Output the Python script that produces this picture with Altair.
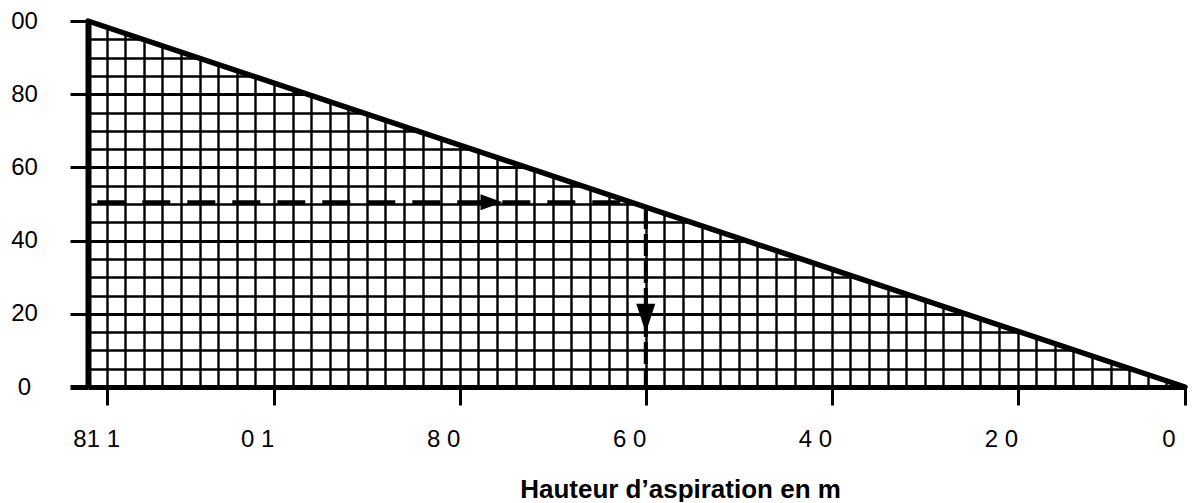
import altair as alt
import pandas as pd

# ---- data -------------------------------------------------------------------
# x positions are counted in grid columns from the left axis (59 columns to the origin)
x_grid_cols = list(range(0, 60))
x_tick_cols = [1, 10, 20, 30, 40, 50, 59]
x_tick_labels = ["81 1", "0 1", "8 0", "6 0", "4 0", "2 0", "0"]

y_grid_values = list(range(0, 101, 5))
y_tick_values = [0, 20, 40, 60, 80, 100]
y_tick_labels = ["0", "20", "40", "60", "80", "00"]

# characteristic line (hypotenuse)
line_cols = [0, 59]
line_vals = [100, 0]

# white area above the characteristic line (hides the grid there)
mask_cols = [0, 59, 60.5]
mask_vals = [100, 0, 1.2]
mask_top = [101.5, 101.5, 101.5]

# reading example (dashed path + arrows)
hdash_cols = [0.5, 29.2]
hdash_vals = [50.5, 50.5]
vdash_cols = [30, 30]
vdash_vals = [49.2, 0]
arrow_right_cols = [21.7]
arrow_right_vals = [50.5]
arrow_down_cols = [30]
arrow_down_vals = [18.8]

title_text = "Hauteur d\u2019aspiration en m"
FONT = "Liberation Sans"

# ---- axes ---------------------------------------------------------------------
def label_expr(values, labels):
    expr = "''"
    for v, l in reversed(list(zip(values, labels))):
        expr = f"datum.value == {v} ? '{l}' : ({expr})"
    return expr

x_tick_test = "indexof([" + ",".join(str(v) for v in x_tick_cols) + "], datum.value) >= 0"

x_axis = alt.Axis(
    values=x_grid_cols,
    labelExpr=label_expr(x_tick_cols, x_tick_labels),
    labelFont=FONT, labelFontSize=24, labelColor="black",
    labelAlign="right", labelBaseline="top", labelPadding=22,
    labelOverlap=False, labelFlush=False,
    labelOffset={"condition": [{"test": "datum.value == 1", "value": 13},
                               {"test": "datum.value == 59", "value": -10}], "value": 0},
    tickSize=18, tickColor="black",
    tickWidth=3,
    tickOpacity={"condition": {"test": x_tick_test, "value": 1}, "value": 0},
    domainColor="black", domainWidth=5,
    grid=True, gridColor="black", gridWidth=2.4,
    gridOpacity={"condition": {"test": "datum.value == 59", "value": 0}, "value": 1},
    title=title_text, titleFont=FONT, titleFontSize=26, titleFontWeight="bold",
    titleColor="black", titleX=592, titleY=110, titleAlign="center",
    titleBaseline="alphabetic",
)

y_axis = alt.Axis(
    values=y_grid_values,
    labelExpr=label_expr(y_tick_values, y_tick_labels),
    labelFont=FONT, labelFontSize=24, labelColor="black",
    labelAlign="center", labelBaseline="middle", labelPadding=46,
    labelOverlap=False, labelFlush=False,
    tickSize=18, tickColor="black",
    tickWidth={"condition": {"test": "datum.value == 0", "value": 5}, "value": 3},
    tickOpacity={"condition": {"test": "datum.value % 20 == 0", "value": 1}, "value": 0},
    domainColor="black", domainWidth=6,
    grid=True, gridColor="black",
    gridWidth={"condition": {"test": "datum.value % 20 == 0", "value": 3.2}, "value": 2.4},
    gridOpacity={"condition": {"test": "datum.value == 100", "value": 0}, "value": 1},
    title="",
)

x_scale = alt.Scale(domain=[0, 59], nice=False, zero=False)
y_scale = alt.Scale(domain=[0, 100], nice=False, zero=True)

X = alt.X("col:Q", scale=x_scale, axis=x_axis)
Y = alt.Y("val:Q", scale=y_scale, axis=y_axis)

# ---- layers -------------------------------------------------------------------
df_line = pd.DataFrame({"col": line_cols, "val": line_vals})
df_mask = pd.DataFrame({"col": mask_cols, "val": mask_vals, "top": mask_top})

mask = alt.Chart(df_mask).mark_area(color="white", opacity=1).encode(
    x=X, y=Y, y2=alt.Y2("top:Q")
)

hdash = alt.Chart(pd.DataFrame({"col": hdash_cols, "val": hdash_vals})).mark_line(
    color="black", strokeWidth=4, strokeDash=[28, 17]
).encode(x=X, y=Y)

vdash = alt.Chart(pd.DataFrame({"col": vdash_cols, "val": vdash_vals})).mark_line(
    color="black", strokeWidth=4, strokeDash=[22, 5]
).encode(x=X, y=Y)

arrow_right = alt.Chart(pd.DataFrame({"col": arrow_right_cols, "val": arrow_right_vals})).mark_point(
    shape="M-1,-0.73L1,0L-1,0.73Z", size=484, filled=True, color="black",
    opacity=1, strokeWidth=0
).encode(x=X, y=Y)

arrow_down = alt.Chart(pd.DataFrame({"col": arrow_down_cols, "val": arrow_down_vals})).mark_point(
    shape="M-0.655,-1L0.655,-1L0,1Z", size=841, filled=True, color="black",
    opacity=1, strokeWidth=0
).encode(x=X, y=Y)

hyp = alt.Chart(df_line).mark_line(color="black", strokeWidth=5.5, strokeCap="round").encode(
    x=X, y=Y
)

chart = alt.layer(mask, hdash, vdash, arrow_right, arrow_down, hyp).properties(
    width=1097,
    height=366,
    autosize=alt.AutoSizeParams(type="none"),
    padding={"left": 80, "top": 13, "right": 5, "bottom": 115},
    background="white",
).configure_view(stroke="transparent")

chart.save("out.html", embed_options={"renderer": "svg", "actions": False})
